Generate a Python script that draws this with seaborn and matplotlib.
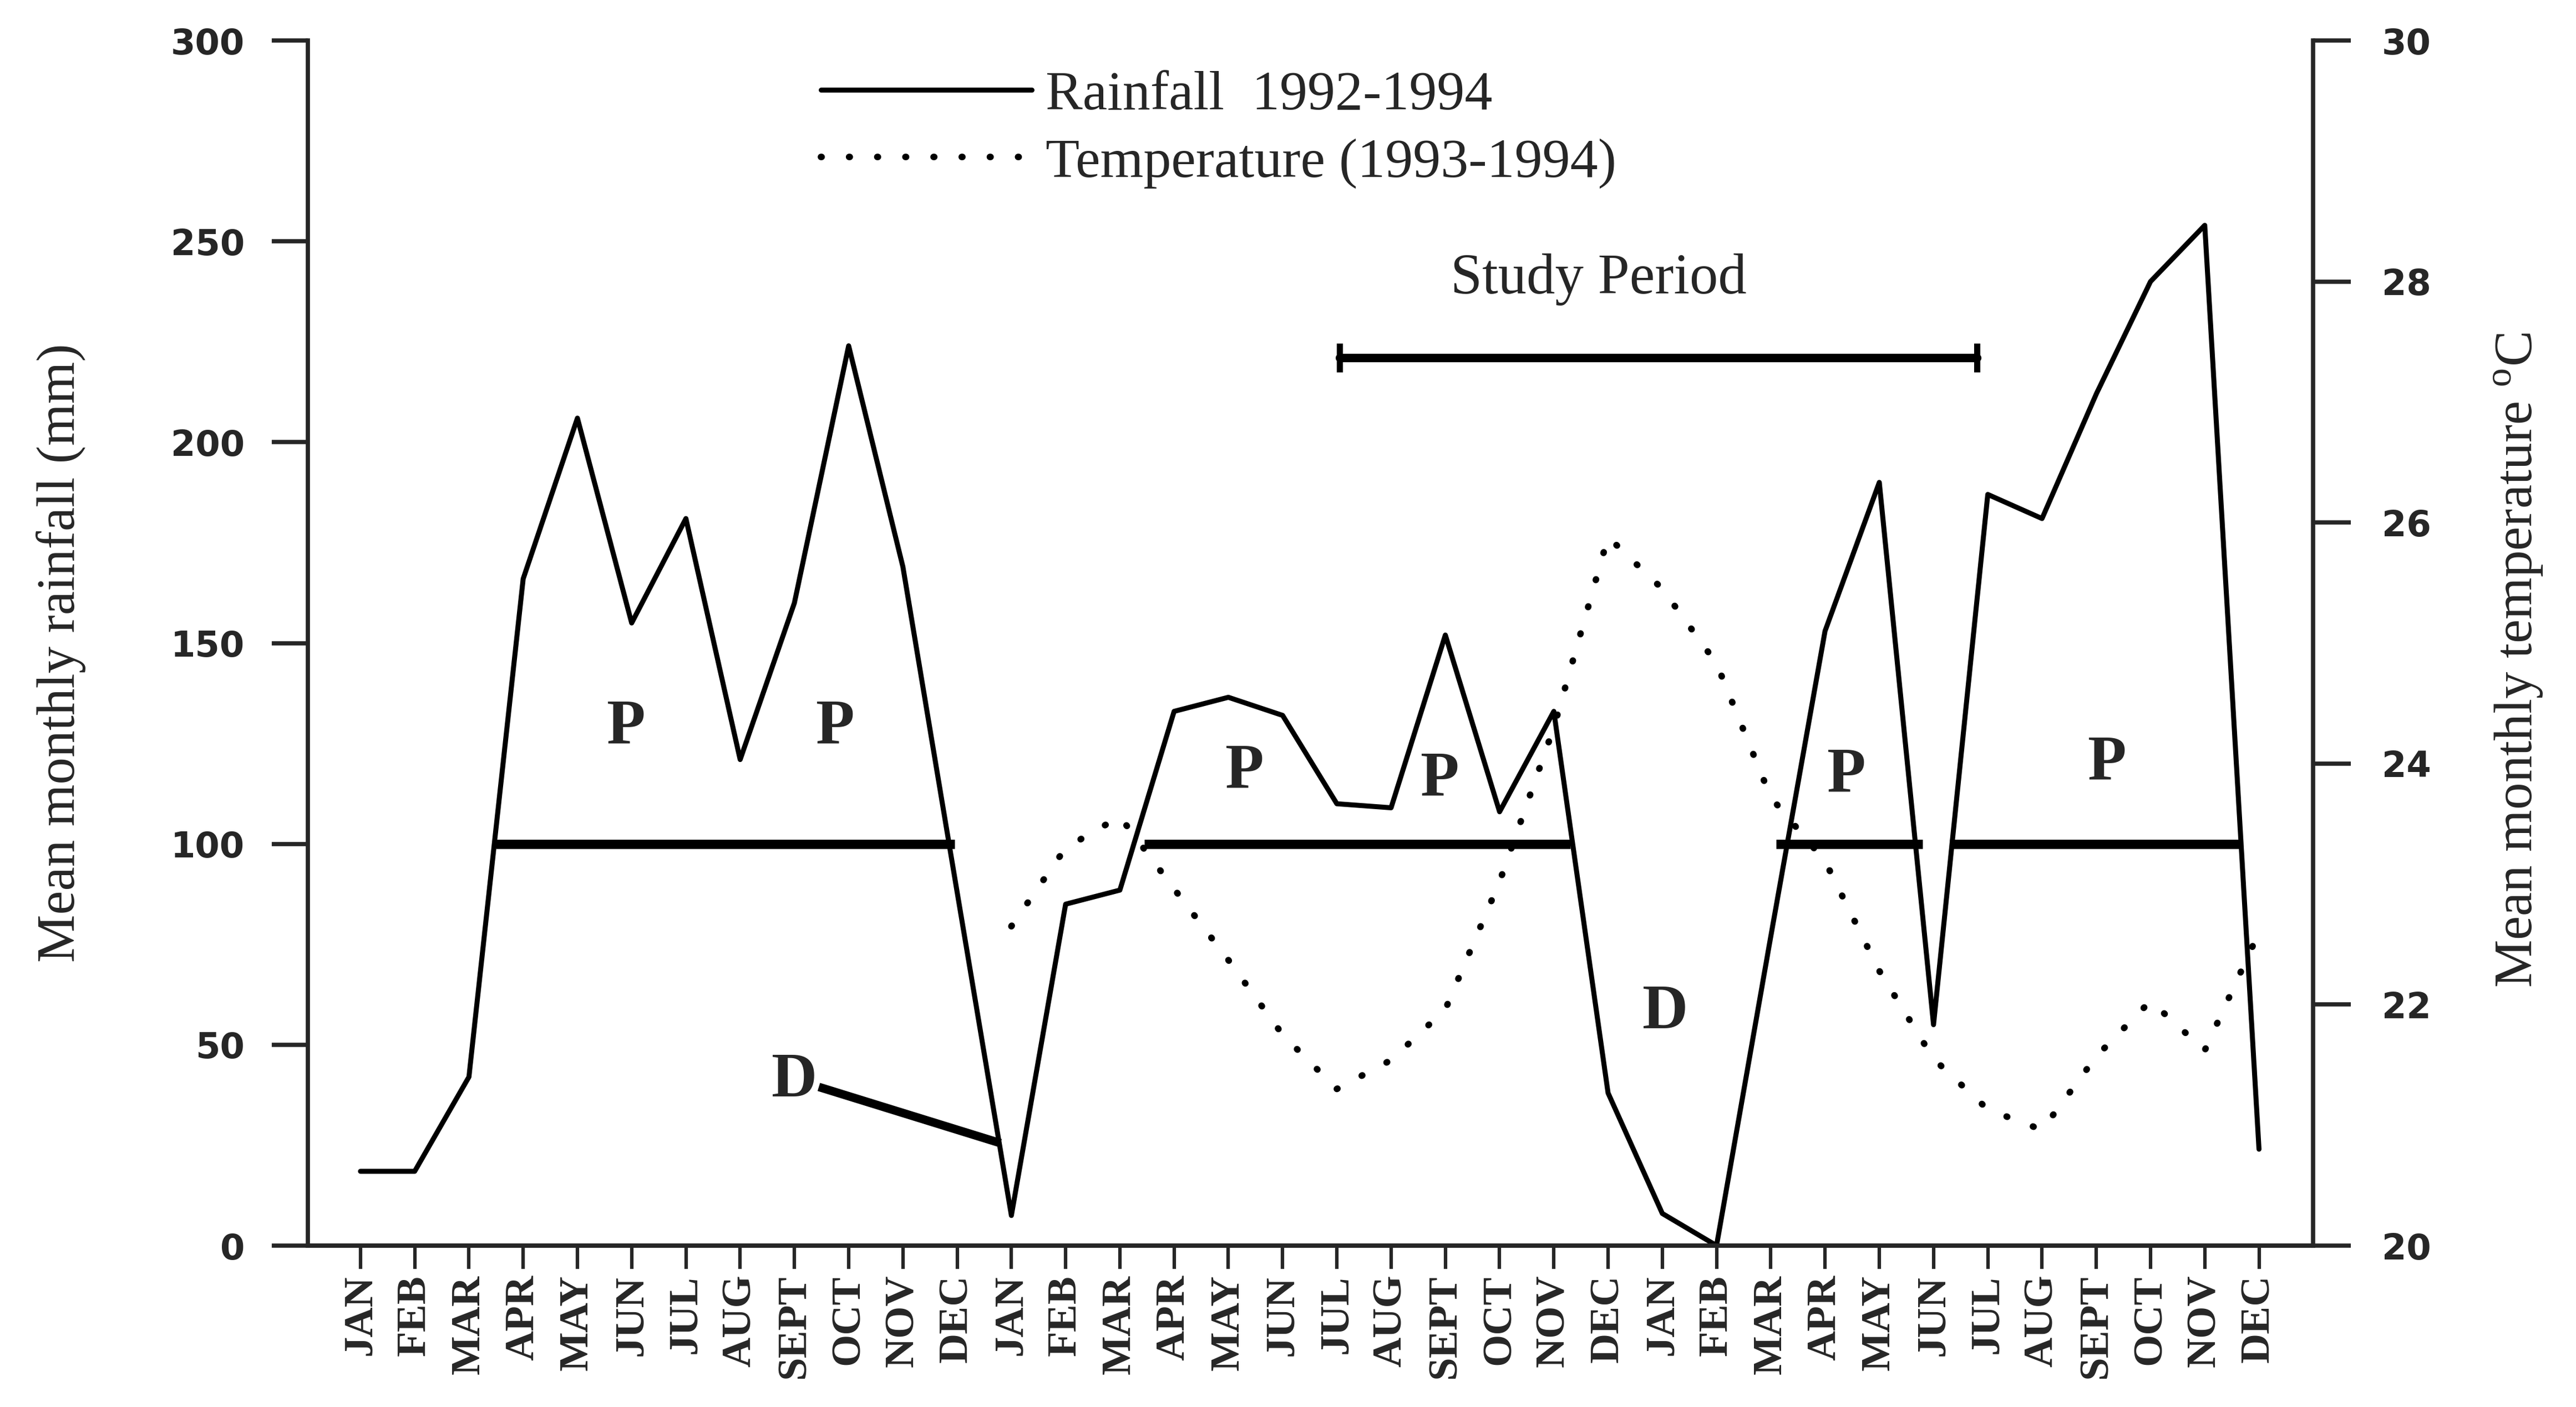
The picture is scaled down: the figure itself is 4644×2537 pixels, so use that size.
import numpy as np
import pandas as pd
import matplotlib
matplotlib.use('Agg')
import matplotlib.pyplot as plt
import seaborn as sns

# =============================================================================
# Data (Jan 1992 - Dec 1994)
# =============================================================================
month_names = ['JAN', 'FEB', 'MAR', 'APR', 'MAY', 'JUN',
               'JUL', 'AUG', 'SEPT', 'OCT', 'NOV', 'DEC'] * 3

# mean monthly rainfall (mm), 36 months
rainfall = [18.5, 18.5, 42, 166, 206, 155, 181, 121, 160, 224, 169, 88,
            7.5, 85, 88.5, 133, 136.5, 132, 110, 109, 152, 108, 133, 38,
            8, 0, 77, 153, 190, 55, 187, 181, 212, 240, 254, 24]

# mean monthly temperature (deg C), Jan 1993 - Dec 1994
temp_start = 12
temperature = [22.65, 23.3, 23.56, 22.96, 22.37, 21.75, 21.3, 21.54, 21.96, 23.02, 24.3, 25.88,
               25.45, 24.83, 23.72, 23.19, 22.28, 21.55, 21.13, 20.96, 21.57, 22.03, 21.62, 22.6]

# wet ("P") periods marked by bars at 100 mm
wet_level = 100
wet_start = [2.5, 14.45, 26.1, 29.3]
wet_end = [10.95, 22.3, 28.8, 34.7]

# letter labels
p_x = [4.9, 8.75, 16.3, 19.9, 27.4, 32.2]
p_y = [129, 129, 118, 116, 117, 120]
d_x = [8.0, 24.05]
d_y = [41, 58]
d_line_x = [8.45, 11.8]
d_line_y = [39.5, 25.5]

# study period
study_x = [18.05, 29.8]
study_y = 221

rain_df = pd.DataFrame({'month': np.arange(len(rainfall)), 'rain': rainfall})
temp_df = pd.DataFrame({'month': np.arange(temp_start, temp_start + len(temperature)),
                        'temp': temperature})

# =============================================================================
# Plot
# =============================================================================
sns.set_style('ticks')
plt.rcParams['font.family'] = ['Liberation Serif', 'DejaVu Serif']
plt.rcParams['axes.linewidth'] = 5.5

fig = plt.figure(figsize=(46.44, 25.37), dpi=100)
ax = fig.add_axes([0.1195, 0.1147, 0.7785, 0.8565])
ax2 = ax.twinx()

sns.lineplot(data=rain_df, x='month', y='rain', ax=ax, color='black',
             linewidth=6.5, label='Rainfall  1992-1994', legend=False)
sns.lineplot(data=temp_df, x='month', y='temp', ax=ax2, color='black',
             linewidth=8.5, linestyle=(0, (0.1, 4.2)), dash_capstyle='round',
             label='Temperature (1993-1994)', legend=False)

# wet period bars
ax.hlines([wet_level] * len(wet_start), wet_start, wet_end, color='black', lw=12)

# P and D labels
for x, y in zip(p_x, p_y):
    ax.text(x, y, 'P', fontsize=82, fontweight='bold', ha='center', va='center')
for x, y in zip(d_x, d_y):
    ax.text(x, y, 'D', fontsize=82, fontweight='bold', ha='center', va='center')
ax.plot(d_line_x, d_line_y, color='black', lw=11, solid_capstyle='butt')

# study period bar
ax.plot(study_x, [study_y, study_y], color='black', lw=11, marker='|',
        markersize=38, markeredgewidth=8)
ax.text(np.mean(study_x) - 1.1, study_y + 13, 'Study Period', fontsize=74,
        ha='center', va='bottom')

# axes ranges and ticks
ax.set_xlim(-0.97, 36.0)
ax.set_ylim(0, 300)
ax2.set_ylim(20, 30)
ax.set_xticks(range(len(month_names)))
ax.set_xticklabels(month_names, rotation=90, fontsize=54, fontweight='bold',
                   family='Liberation Serif')
ax.set_yticks(range(0, 301, 50))
ax.set_yticklabels([str(v) for v in range(0, 301, 50)], fontsize=46,
                   fontweight='bold', family='DejaVu Sans')
ax2.set_yticks(range(20, 31, 2))
ax2.set_yticklabels([str(v) for v in range(20, 31, 2)], fontsize=46,
                    fontweight='bold', family='DejaVu Sans')

ax.tick_params(axis='y', direction='out', length=47, width=5.5, pad=35)
ax.tick_params(axis='x', direction='out', length=30, width=4.5, pad=8)
ax2.tick_params(axis='y', direction='out', length=49, width=5.5, pad=40)

for a in (ax, ax2):
    a.spines['top'].set_visible(False)
ax.spines['right'].set_visible(False)
ax2.spines['left'].set_visible(False)

ax.set_xlabel('')
ax.set_ylabel('Mean monthly rainfall (mm)', fontsize=70)
ax.yaxis.set_label_coords(-0.123, 0.492)
ax.yaxis.label.set_verticalalignment('center')
ax2.set_ylabel(r'Mean monthly temperature $^{\mathregular{o}}$C', fontsize=70)
ax2.yaxis.set_label_coords(1.1024, 0.486)
ax2.yaxis.label.set_verticalalignment('center')

# legend
handles = ax.get_lines()[:1] + ax2.get_lines()[:1]
leg = ax.legend(handles, [h.get_label() for h in handles], loc='upper left',
                bbox_to_anchor=(0.256, 0.975), frameon=False, fontsize=72,
                handlelength=3.8, handletextpad=0.25, labelspacing=0.3,
                borderpad=0, borderaxespad=0)

fig.savefig('out.png', dpi=100, facecolor='white')
